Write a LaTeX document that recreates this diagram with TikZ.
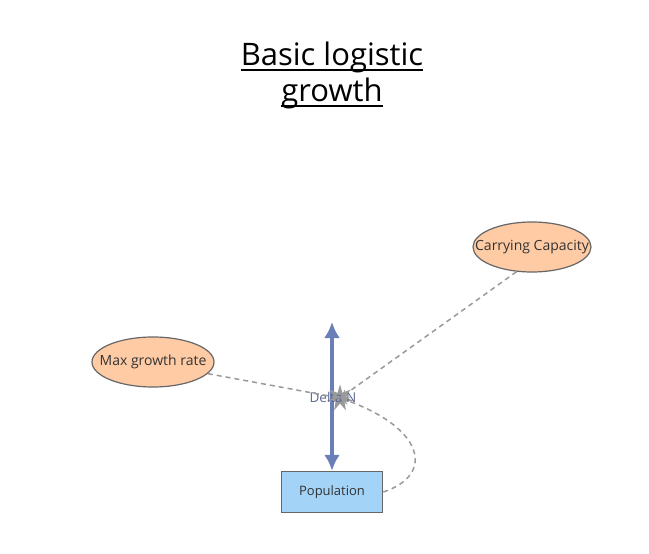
\documentclass[tikz,border=0pt]{standalone}
\usepackage{fontspec}
\setmainfont{Open Sans}
\usetikzlibrary{arrows.meta,shapes.geometric}

\definecolor{peach}{HTML}{FFCBA4}
\definecolor{skyfill}{HTML}{A3D3F6}
\definecolor{edgegray}{HTML}{666666}
\definecolor{linkgray}{HTML}{9A9A9A}
\definecolor{flowblue}{HTML}{6A7FB8}
\definecolor{labelblue}{HTML}{5A6790}

\tikzset{
  aux/.style={ellipse, draw=edgegray, fill=peach, line width=1.2pt,
    minimum width=118pt, minimum height=50pt, inner xsep=-16pt, inner ysep=0pt,
    font=\fontsize{14}{16}\selectfont, text=black!80},
  stock/.style={rectangle, draw=edgegray, fill=skyfill, line width=1.5pt,
    minimum width=101pt, minimum height=41pt, font=\fontsize{13}{15}\selectfont, text=black!80},
  flow/.style={draw=flowblue, line width=4pt, {Latex[length=16pt,width=16pt]}-{Latex[length=16pt,width=16pt]}},
  link/.style={draw=linkgray, line width=1.5pt, dash pattern=on 5pt off 4pt, -{Stealth[length=9pt,width=8pt]}},
  heading/.style={font=\fontsize{31}{36}\selectfont, inner sep=0pt}
}

\begin{document}
\begin{tikzpicture}[x=1pt,y=-1pt]
\useasboundingbox (0,0) rectangle (649,554);
% title
\node[heading, anchor=base] (title1) at (332,65) {Basic logistic};
\node[heading, anchor=base] (title2) at (332,101) {growth};
\draw[line width=2pt] ([yshift=-5pt]title1.base west) -- ([yshift=-5pt]title1.base east);
\draw[line width=2pt] ([yshift=-5pt]title2.base west) -- ([yshift=-5pt]title2.base east);
% stock, auxiliaries
\node[stock] (pop) at (332,492) {Population};
\node[aux] (cap) at (532,247) {Carrying Capacity};
\node[aux, minimum width=122pt] (rate) at (153,362) {Max growth rate};
% flow and valve
\coordinate (src) at (332,322);
\coordinate (valve) at (340,398);
\draw[flow] (src) -- (pop.north);
\node[star, star points=7, star point ratio=2.4, fill=linkgray, inner sep=4pt] (mark) at (valve) {};
\node[text=labelblue, font=\fontsize{13.5}{15}\selectfont] (dn) at (333,397) {Delta N};
% links
\draw[link] (rate.-12) -- (valve);
\draw[link] (cap.-122) -- (valve);
\draw[link] (pop.east) .. controls (435,475) and (425,428) .. (valve);
\end{tikzpicture}
\end{document}
